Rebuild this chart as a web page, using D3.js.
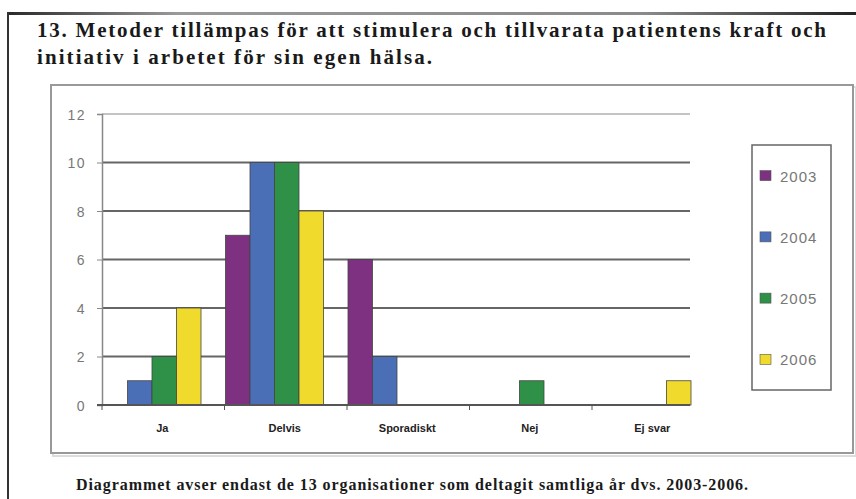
<!DOCTYPE html>
<html lang="sv">
<head>
<meta charset="UTF-8">
<title>Metoder för att stimulera patientens kraft</title>
<script src="https://cdn.jsdelivr.net/npm/d3@7"></script>
<style>
    body { margin: 0; background: #fff; }
    .ytick text { font: 14px "Liberation Sans", Arial, sans-serif; fill: #777; }
    .cat { font: bold 11px "Liberation Sans", Arial, sans-serif; fill: #222; }
    .leg { font: 15px "Liberation Sans", Arial, sans-serif; fill: #777; }
    .serif { font-family: "Liberation Serif", "Times New Roman", Times, serif; font-weight: bold; fill: #1a1a1a; }
</style>
</head>
<body>
<svg width="856" height="499"></svg>
<script>
    const categories = ["Ja", "Delvis", "Sporadiskt", "Nej", "Ej svar"];
    const years = ["2003", "2004", "2005", "2006"];
    const v2003 = [0, 7, 6, 0, 0];
    const v2004 = [1, 10, 2, 0, 0];
    const v2005 = [2, 10, 0, 1, 0];
    const v2006 = [4, 8, 0, 0, 1];
    const yTicks = [0, 2, 4, 6, 8, 10, 12];
    const colors = ["#7d3180", "#4a6fb6", "#2f9147", "#f0da2c"];

    const series = [v2003, v2004, v2005, v2006];
    const data = categories.map((c, i) => ({
        cat: c,
        vals: years.map((y, j) => ({ year: y, value: series[j][i], color: colors[j] }))
    }));

    const svg = d3.select("svg");

    // outer page frame
    const grad = svg.append("defs").append("linearGradient").attr("id", "topline");
    grad.append("stop").attr("offset", "0%").attr("stop-color", "#2a2a2a");
    grad.append("stop").attr("offset", "20%").attr("stop-color", "#9a9a9a");
    grad.append("stop").attr("offset", "75%").attr("stop-color", "#8a8a8a");
    grad.append("stop").attr("offset", "100%").attr("stop-color", "#222");
    svg.append("rect").attr("x", 8).attr("y", 12).attr("width", 848).attr("height", 3).attr("fill", "url(#topline)");
    svg.append("rect").attr("x", 7).attr("y", 12).attr("width", 2).attr("height", 487).attr("fill", "#333");

    // title
    svg.append("text").attr("class", "serif").attr("x", 37).attr("y", 37)
        .attr("font-size", 21).attr("textLength", 789).attr("lengthAdjust", "spacing")
        .text("13. Metoder tillämpas för att stimulera och tillvarata patientens kraft och");
    svg.append("text").attr("class", "serif").attr("x", 37).attr("y", 64)
        .attr("font-size", 21).attr("textLength", 395).attr("lengthAdjust", "spacing")
        .text("initiativ i arbetet för sin egen hälsa.");

    // chart area box
    svg.append("rect").attr("x", 53).attr("y", 87).attr("width", 803).attr("height", 369)
        .attr("fill", "none").attr("stroke", "#ddd").attr("stroke-width", 2);
    svg.append("rect").attr("x", 51).attr("y", 85).attr("width", 802).attr("height", 368)
        .attr("fill", "#fff").attr("stroke", "#999").attr("stroke-width", 2);

    const plotLeft = 102, plotRight = 690;
    const y = d3.scaleLinear().domain([0, 12]).range([405, 114]);
    const x0 = d3.scaleBand().domain(categories).range([plotLeft, plotLeft + 122.5 * categories.length]);
    const x1 = d3.scaleBand().domain(years).range([1, 99]);

    // gridlines
    svg.append("g").selectAll("line").data(yTicks.filter(d => d > 0)).join("line")
        .attr("x1", plotLeft).attr("x2", plotRight)
        .attr("y1", d => y(d)).attr("y2", d => y(d))
        .attr("stroke", d => d === 12 ? "#c4c4c4" : "#666").attr("stroke-width", 2);

    // y axis
    const yAxis = svg.append("g").attr("transform", `translate(${plotLeft},0)`)
        .call(d3.axisLeft(y).tickValues(yTicks).tickSize(5).tickPadding(11));
    yAxis.select(".domain").attr("stroke", "#888").attr("stroke-width", 1.5);
    yAxis.selectAll(".tick line").attr("stroke", "#888");
    yAxis.selectAll(".tick").attr("class", "ytick");
    yAxis.selectAll("text").attr("fill", null).attr("font-size", null).attr("font-family", null)
        .attr("letter-spacing", 1.5).attr("dy", "0.36em");

    // bars
    svg.append("g").selectAll("g").data(data).join("g")
        .attr("transform", d => `translate(${x0(d.cat)},0)`)
      .selectAll("rect").data(d => d.vals.filter(v => v.value > 0)).join("rect")
        .attr("x", d => x1(d.year))
        .attr("width", x1.bandwidth())
        .attr("y", d => y(d.value))
        .attr("height", d => y(0) - y(d.value))
        .attr("fill", d => d.color)
        .attr("stroke", "#444").attr("stroke-width", 0.8);

    // x axis baseline and ticks
    svg.append("line").attr("x1", plotLeft - 5).attr("x2", plotRight)
        .attr("y1", y(0)).attr("y2", y(0)).attr("stroke", "#555").attr("stroke-width", 2);
    svg.append("g").selectAll("line").data(categories.slice(1)).join("line")
        .attr("x1", d => x0(d)).attr("x2", d => x0(d))
        .attr("y1", y(0)).attr("y2", y(0) + 5).attr("stroke", "#555");
    svg.append("line").attr("x1", plotLeft).attr("x2", plotLeft)
        .attr("y1", y(0)).attr("y2", y(0) + 5).attr("stroke", "#555");

    svg.append("g").selectAll("text").data(categories).join("text")
        .attr("class", "cat")
        .attr("x", d => x0(d) + x0.bandwidth() / 2 - 1)
        .attr("y", 432)
        .attr("text-anchor", "middle")
        .text(d => d);

    // legend
    const leg = d3.scaleBand().domain(years).range([145, 390]);
    svg.append("rect").attr("x", 752).attr("y", 145).attr("width", 79).attr("height", 245)
        .attr("fill", "#fff").attr("stroke", "#666").attr("stroke-width", 1.5);
    const li = svg.append("g").selectAll("g").data(years).join("g")
        .attr("transform", (d) => `translate(760,${leg(d) + leg.bandwidth() / 2})`);
    li.append("rect").attr("x", 0).attr("y", -5).attr("width", 11).attr("height", 10)
        .attr("fill", (d, i) => colors[i]).attr("stroke", "#555").attr("stroke-width", 0.6);
    li.append("text").attr("class", "leg").attr("x", 20).attr("y", 6)
        .attr("letter-spacing", 1).text(d => d);

    // footnote
    svg.append("text").attr("class", "serif").attr("x", 76).attr("y", 490)
        .attr("font-size", 16).attr("textLength", 672).attr("lengthAdjust", "spacing")
        .text("Diagrammet avser endast de 13 organisationer som deltagit samtliga år dvs. 2003-2006.");
</script>
</body>
</html>
